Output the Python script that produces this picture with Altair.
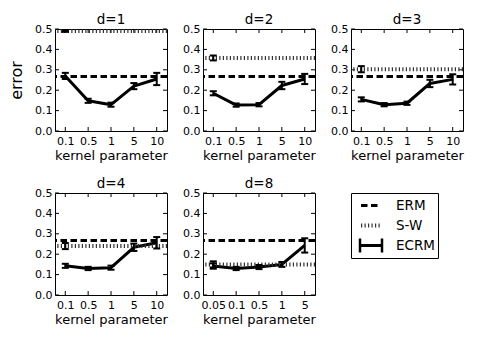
import altair as alt
import pandas as pd

FONT = "DejaVu Sans"

# ---- data ----
params_a = ["0.1", "0.5", "1", "5", "10"]
params_b = ["0.05", "0.1", "0.5", "1", "5"]

d1_ecrm = [0.270, 0.148, 0.129, 0.220, 0.255]
d1_err = [0.015, 0.010, 0.010, 0.015, 0.030]
d1_erm = 0.267
d1_sw = 0.490
d1_sw_err = 0.004

d2_ecrm = [0.185, 0.127, 0.129, 0.223, 0.255]
d2_err = [0.010, 0.008, 0.008, 0.018, 0.025]
d2_erm = 0.267
d2_sw = 0.358
d2_sw_err = 0.012

d3_ecrm = [0.155, 0.129, 0.136, 0.233, 0.253]
d3_err = [0.010, 0.008, 0.008, 0.018, 0.025]
d3_erm = 0.267
d3_sw = 0.303
d3_sw_err = 0.015

d4_ecrm = [0.143, 0.130, 0.134, 0.234, 0.256]
d4_err = [0.010, 0.008, 0.010, 0.018, 0.028]
d4_erm = 0.267
d4_sw = 0.240
d4_sw_err = 0.015

d8_ecrm = [0.142, 0.130, 0.137, 0.150, 0.243]
d8_err = [0.013, 0.008, 0.010, 0.012, 0.035]
d8_erm = 0.267
d8_sw = 0.150
d8_sw_err = 0.015

y_ticks = [0.0, 0.1, 0.2, 0.3, 0.4, 0.5]
legend_labels = ["ERM", "S-W", "ECRM"]

W, H = 112, 102
DASH = [6.5, 3.5]
DOT = [1.2, 2.3]


def panel(title, cats, mean, err, erm, sw, sw_err, ytitle):
    df = pd.DataFrame({
        "param": cats,
        "error": mean,
        "lo": [m - e for m, e in zip(mean, err)],
        "hi": [m + e for m, e in zip(mean, err)],
    })
    sw_df = pd.DataFrame({"param": [cats[0]], "lo": [sw - sw_err], "hi": [sw + sw_err]})
    erm_df = pd.DataFrame({"v": [erm]})
    swl_df = pd.DataFrame({"v": [sw]})
    yt_df = pd.DataFrame({"t": y_ticks})
    xt_df = pd.DataFrame({"param": cats})
    title_df = pd.DataFrame({"title": [title]})

    xscale = alt.Scale(type="point", domain=cats, padding=0.45)
    yscale = alt.Scale(domain=[0, 0.5], nice=False)
    xaxis = alt.Axis(title="kernel parameter", labelAngle=0, tickSize=0, labelPadding=4,
                     domain=False, grid=False, labelOverlap=False, labelBound=False,
                     labelFontSize=11, titleFontSize=13, titleFontWeight="normal",
                     titlePadding=3, labelColor="black", titleColor="black",
                     labelFont=FONT, titleFont=FONT)
    yaxis = alt.Axis(title=ytitle if ytitle else "", values=y_ticks, format=".1f",
                     tickSize=0, labelPadding=3, domain=False, grid=False,
                     labelFontSize=11, titleFontSize=16, titleFontWeight="normal",
                     titlePadding=10, labelColor="black", titleColor="black",
                     labelFont=FONT, titleFont=FONT)

    def X():
        return alt.X("param:N", scale=xscale, axis=xaxis)

    def Y(f):
        return alt.Y(f, scale=yscale, axis=yaxis)

    base = alt.Chart(df)
    line = base.mark_line(color="black", strokeWidth=3, strokeJoin="round").encode(
        x=X(), y=Y("error:Q"))
    bars = base.mark_rule(color="black", strokeWidth=2).encode(
        x=X(), y=Y("lo:Q"), y2="hi:Q")
    cap_lo = base.mark_tick(color="black", size=7, thickness=2, opacity=1).encode(
        x=X(), y=Y("lo:Q"))
    cap_hi = base.mark_tick(color="black", size=7, thickness=2, opacity=1).encode(
        x=X(), y=Y("hi:Q"))

    erm_rule = alt.Chart(erm_df).mark_rule(color="black", strokeWidth=3, strokeDash=DASH).encode(
        y=Y("v:Q"))
    sw_rule = alt.Chart(swl_df).mark_rule(color="#333333", strokeWidth=4, strokeDash=DOT).encode(
        y=Y("v:Q"))
    sw_bar = alt.Chart(sw_df).mark_rule(color="black", strokeWidth=2).encode(
        x=X(), y=Y("lo:Q"), y2="hi:Q")
    sw_lo = alt.Chart(sw_df).mark_tick(color="black", size=7, thickness=2, opacity=1).encode(
        x=X(), y=Y("lo:Q"))
    sw_hi = alt.Chart(sw_df).mark_tick(color="black", size=7, thickness=2, opacity=1).encode(
        x=X(), y=Y("hi:Q"))

    # inward ticks (matplotlib classic frame)
    tl = alt.Chart(yt_df).mark_rule(color="black", strokeWidth=1).encode(
        y=Y("t:Q"), x=alt.value(0), x2=alt.value(4))
    tr = alt.Chart(yt_df).mark_rule(color="black", strokeWidth=1).encode(
        y=Y("t:Q"), x=alt.value(W - 4), x2=alt.value(W))
    tb = alt.Chart(xt_df).mark_rule(color="black", strokeWidth=1).encode(
        x=X(), y=alt.value(H), y2=alt.value(H - 4))
    tt = alt.Chart(xt_df).mark_rule(color="black", strokeWidth=1).encode(
        x=X(), y=alt.value(0), y2=alt.value(4))

    # panel title as a text mark just above the frame
    ttl = alt.Chart(title_df).mark_text(
        fontSize=13.5, font=FONT, color="black", align="center", baseline="alphabetic").encode(
        text="title:N", x=alt.value(W / 2), y=alt.value(-5))

    return alt.layer(line, tl, tr, tb, tt, erm_rule, sw_rule, sw_bar, sw_lo, sw_hi,
                     bars, cap_lo, cap_hi, ttl).properties(width=W, height=H)


p1 = panel("d=1", params_a, d1_ecrm, d1_err, d1_erm, d1_sw, d1_sw_err, "error")
p2 = panel("d=2", params_a, d2_ecrm, d2_err, d2_erm, d2_sw, d2_sw_err, None)
p3 = panel("d=3", params_a, d3_ecrm, d3_err, d3_erm, d3_sw, d3_sw_err, None)
p4 = panel("d=4", params_a, d4_ecrm, d4_err, d4_erm, d4_sw, d4_sw_err, None)
p8 = panel("d=8", params_b, d8_ecrm, d8_err, d8_erm, d8_sw, d8_sw_err, None)

# ---- legend drawn as a small chart ----
leg_df = pd.DataFrame({"label": legend_labels})
LW, LH = 87, 65
ly = alt.Y("label:N", scale=alt.Scale(type="point", domain=legend_labels, padding=0.625), axis=None)
leg_erm = alt.Chart(leg_df).transform_filter(alt.datum.label == "ERM").mark_rule(
    color="black", strokeWidth=3, strokeDash=DASH).encode(y=ly, x=alt.value(10), x2=alt.value(30))
leg_sw = alt.Chart(leg_df).transform_filter(alt.datum.label == "S-W").mark_rule(
    color="#333333", strokeWidth=4, strokeDash=DOT).encode(y=ly, x=alt.value(10), x2=alt.value(30))
leg_ecrm = alt.Chart(leg_df).transform_filter(alt.datum.label == "ECRM").mark_rule(
    color="black", strokeWidth=3).encode(y=ly, x=alt.value(8), x2=alt.value(32))
leg_cap1 = alt.Chart(leg_df).transform_filter(alt.datum.label == "ECRM").mark_tick(
    color="black", orient="vertical", size=14, thickness=2.5, opacity=1).encode(y=ly, x=alt.value(9))
leg_cap2 = alt.Chart(leg_df).transform_filter(alt.datum.label == "ECRM").mark_tick(
    color="black", orient="vertical", size=14, thickness=2.5, opacity=1).encode(y=ly, x=alt.value(31))
leg_text = alt.Chart(leg_df).mark_text(
    align="left", baseline="middle", fontSize=13.5, font=FONT, color="black").encode(
    y=ly, x=alt.value(45), text="label:N")
legend = alt.layer(leg_erm, leg_sw, leg_ecrm, leg_cap1, leg_cap2, leg_text).properties(
    width=LW, height=LH)

chart = alt.concat(p1, p2, p3, p4, p8, legend, columns=3, bounds="flush",
                   spacing={"row": 62, "column": 36}).properties(
    padding={"top": 4, "left": 0, "right": 0, "bottom": 0}, background="white"
).configure_view(stroke="black", strokeWidth=1).configure_axis(labelFont=FONT, titleFont=FONT)

chart.save("out.html", embed_options={"renderer": "svg", "actions": False})
